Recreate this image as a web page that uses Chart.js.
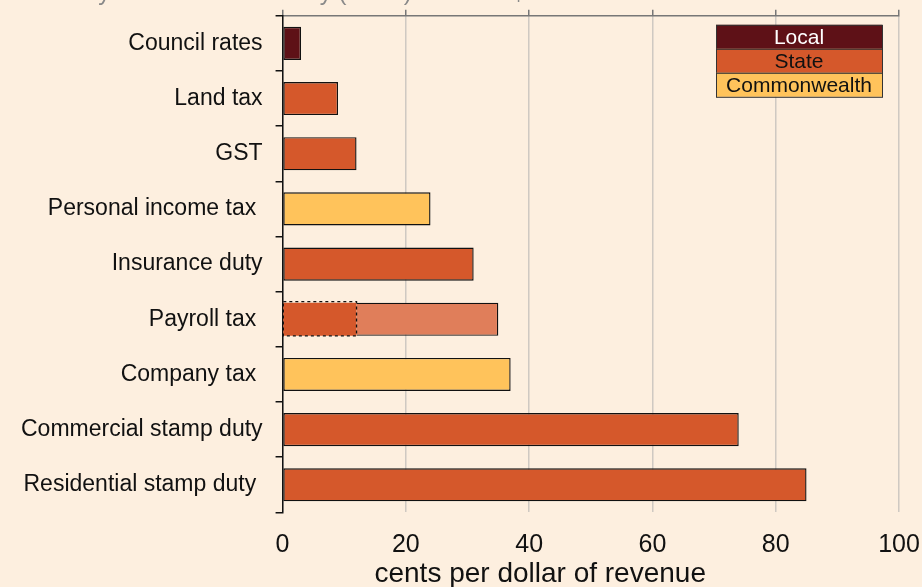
<!DOCTYPE html>
<html>
<head>
<meta charset="utf-8">
<script src="https://cdn.jsdelivr.net/npm/chart.js@4.4.1/dist/chart.umd.min.js"></script>
<style>
  html, body { margin: 0; padding: 0; background: #FDEFDF; overflow: hidden; width: 922px; height: 587px; }
  #wrap { position: absolute; left: 0; top: -21px; width: 922px; height: 612px; }
</style>
</head>
<body>
<div id="wrap"><canvas id="c" width="922" height="612"></canvas></div>
<script>
const titleText = 'Efficiency cost to the economy (cents) for each $1 of revenue raised';
const categories = ['Council rates', 'Land tax', 'GST', 'Personal income tax ', 'Insurance duty', 'Payroll tax ', 'Company tax ', 'Commercial stamp duty', 'Residential stamp duty '];
const baseValues = [3, 9, 12, 24, 31, 12, 37, 74, 85];
const extraValues = [null, null, null, null, null, 23, null, null, null];
const levels = ['Local', 'State', 'State', 'Commonwealth', 'State', 'State', 'Commonwealth', 'State', 'State'];
const legendLabels = ['Local', 'State', 'Commonwealth'];
const xTicks = [0, 20, 40, 60, 80, 100];
const xTitle = 'cents per dollar of revenue';

const levelColors = { Local: '#5E1117', State: '#D5582B', Commonwealth: '#FFC35B' };
const legendText = { Local: '#FFFFFF', State: '#111111', Commonwealth: '#111111' };
const extraColor = '#E07E5A';
const FONT = "'Liberation Sans', Arial, sans-serif";

const overlayPlugin = {
  id: 'overlay',
  afterDatasetsDraw(chart) {
    const ctx = chart.ctx;
    const meta = chart.getDatasetMeta(0);
    extraValues.forEach((v, i) => {
      if (v == null) return;
      const el = meta.data[i];
      const p = el.getProps(['x', 'y', 'base', 'height'], true);
      ctx.save();
      ctx.setLineDash([3, 3]);
      ctx.strokeStyle = '#111';
      ctx.lineWidth = 1.3;
      ctx.strokeRect(p.base, p.y - p.height / 2 - 1, p.x - p.base, p.height + 1);
      ctx.restore();
    });
    const a = chart.chartArea;
    const w = 166, h = 24;
    const x0 = a.right - 17 - w, y0 = a.top + 9;
    ctx.save();
    legendLabels.forEach((lab, i) => {
      const y = y0 + i * h;
      ctx.fillStyle = levelColors[lab];
      ctx.fillRect(x0, y, w, h);
      ctx.strokeStyle = '#333';
      ctx.lineWidth = 1;
      ctx.strokeRect(x0 + 0.5, y + 0.5, w, h);
      ctx.fillStyle = legendText[lab];
      ctx.font = '21px ' + FONT;
      ctx.textAlign = 'center';
      ctx.textBaseline = 'middle';
      ctx.fillText(lab, x0 + w / 2, y + h / 2 + 1);
    });
    ctx.restore();
  }
};

new Chart(document.getElementById('c'), {
  type: 'bar',
  data: {
    labels: categories,
    datasets: [
      {
        data: baseValues,
        backgroundColor: levels.map(l => levelColors[l]),
        borderColor: '#111',
        borderWidth: extraValues.map(v => v == null ? 1.4 : 0),
        borderSkipped: false,
        barPercentage: 0.6,
        categoryPercentage: 1.0,
        stack: 's'
      },
      {
        data: extraValues,
        backgroundColor: extraColor,
        borderColor: '#111',
        borderWidth: 1.4,
        borderSkipped: 'left',
        barPercentage: 0.6,
        categoryPercentage: 1.0,
        stack: 's'
      }
    ]
  },
  options: {
    indexAxis: 'y',
    responsive: false,
    animation: false,
    devicePixelRatio: 1,
    layout: { padding: { left: 8, right: 23, top: 0, bottom: 0 } },
    plugins: {
      legend: { display: false },
      tooltip: { enabled: false },
      title: {
        display: true,
        text: titleText,
        align: 'start',
        color: '#8a8a8a',
        font: { family: FONT, size: 24, weight: 'normal' },
        padding: { top: 0, bottom: 2 }
      }
    },
    scales: {
      x: {
        type: 'linear',
        position: 'bottom',
        stacked: true,
        min: 0, max: 100,
        afterBuildTicks: s => { s.ticks = xTicks.map(v => ({ value: v })); },
        afterFit: s => { s.paddingRight = 0; s.paddingLeft = 0; },
        ticks: { color: '#111', padding: 18, font: { family: FONT, size: 25 } },
        grid: { color: 'rgba(170,170,170,0.55)', lineWidth: 1.5, drawTicks: false },
        border: { display: false },
        title: { display: true, text: xTitle + '\u00A0'.repeat(13), color: '#111', font: { family: FONT, size: 28 }, padding: { top: -21, bottom: 0 } }
      },
      xTop: {
        type: 'linear',
        position: 'top',
        min: 0, max: 100,
        afterBuildTicks: s => { s.ticks = xTicks.map(v => ({ value: v })); },
        ticks: { display: false },
        grid: { drawOnChartArea: false, drawTicks: true, tickLength: 6, color: '#777', lineWidth: 1.5 },
        border: { display: true, color: '#777', width: 1.5 }
      },
      y: {
        stacked: true,
        ticks: { color: '#111', padding: 13, font: { family: FONT, size: 23 } },
        grid: { offset: true, drawOnChartArea: false, drawTicks: true, tickLength: 7, color: '#111', lineWidth: 1.5 },
        border: { display: true, color: '#111', width: 1.5 }
      }
    }
  },
  plugins: [overlayPlugin]
});
</script>
</body>
</html>
